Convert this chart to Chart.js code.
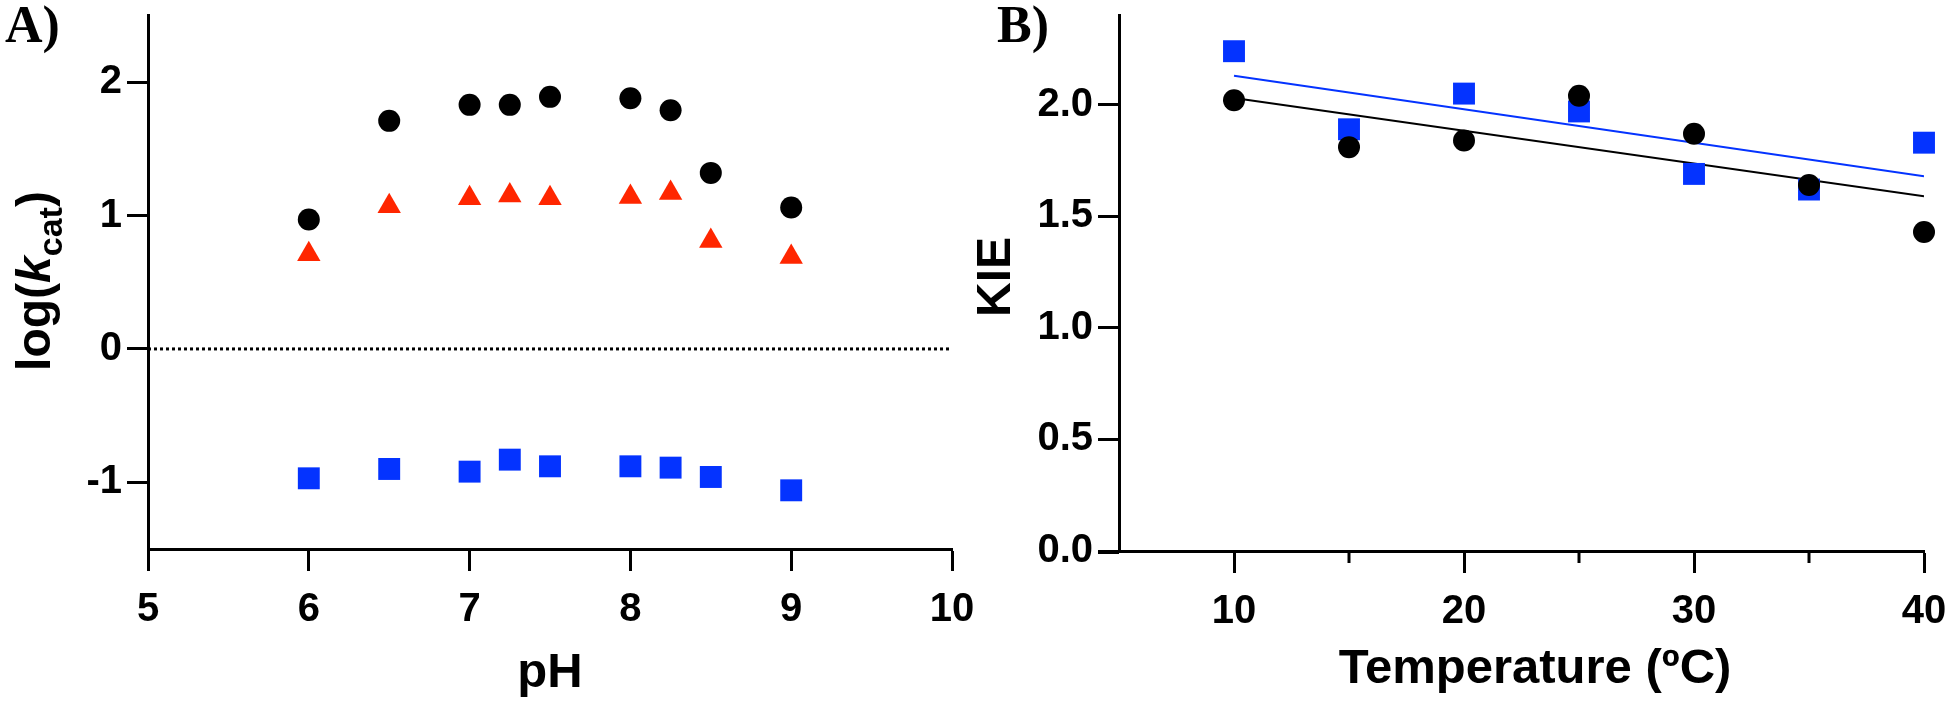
<!DOCTYPE html>
<html>
<head>
<meta charset="utf-8">
<script src="https://cdn.jsdelivr.net/npm/chart.js@4.4.0/dist/chart.umd.min.js"></script>
<style>
body { margin: 0; background: #fff; width: 1950px; height: 703px; position: relative; overflow: hidden; }
#wrapA { position: absolute; left: 0; top: 0; width: 980px; height: 703px; }
#wrapB { position: absolute; left: 960px; top: 0; width: 990px; height: 703px; }
</style>
</head>
<body>
<div id="wrapA"><canvas id="chartA"></canvas></div>
<div id="wrapB"><canvas id="chartB"></canvas></div>
<script>
// panel A: log(kcat) vs pH
var phValues = [6, 6.5, 7, 7.25, 7.5, 8, 8.25, 8.5, 9];
var logKcatCircle = [0.97, 1.71, 1.83, 1.83, 1.89, 1.88, 1.79, 1.32, 1.06];
var logKcatTriangle = [0.71, 1.07, 1.13, 1.15, 1.13, 1.14, 1.17, 0.81, 0.69];
var logKcatSquare = [-0.97, -0.90, -0.92, -0.83, -0.88, -0.88, -0.89, -0.96, -1.06];
var zeroLineX = [5, 10];
var zeroLineY = [0, 0];
var phTicks = [5, 6, 7, 8, 9, 10];
var logTicks = [-1, 0, 1, 2];

// panel B: KIE vs temperatura
var tempValues = [10, 15, 20, 25, 30, 35, 40];
var kieCircle = [2.02, 1.81, 1.84, 2.04, 1.87, 1.64, 1.43];
var kieSquare = [2.24, 1.89, 2.05, 1.97, 1.69, 1.62, 1.83];
var fitTemps = [10, 40];
var fitCircle = [2.03, 1.59];
var fitSquare = [2.13, 1.68];
var tempTicks = [10, 20, 30, 40];
var tempMinorTicks = [15, 25, 35];
var kieTicks = [0, 0.5, 1, 1.5, 2];

var NEGRO = '#000000';
var AZUL = '#0433FF';
var ROJO = '#FF2600';

Chart.defaults.font.family = '"Liberation Sans", Arial, sans-serif';
Chart.defaults.color = NEGRO;

// junta dos listas en puntos {x, y}
function puntos(xs, ys) {
    var lista = [];
    for (var i = 0; i < xs.length; i++) {
        lista.push({ x: xs[i], y: ys[i] });
    }
    return lista;
}

// dibuja letra del panel, titulos y marcas menores
var panelDecor = {
    id: 'panelDecor',
    afterDraw: function (chart, args, opts) {
        var ctx = chart.ctx;
        var area = chart.chartArea;
        var xScale = chart.scales.x;
        ctx.save();
        ctx.fillStyle = NEGRO;
        ctx.strokeStyle = NEGRO;

        ctx.font = 'bold 52px "Liberation Serif"';
        ctx.textAlign = 'left';
        ctx.textBaseline = 'alphabetic';
        ctx.fillText(opts.letter, opts.letterX, opts.letterY);

        ctx.font = 'bold ' + opts.titleSize + 'px "Liberation Sans"';
        ctx.textAlign = 'center';
        ctx.fillText(opts.xTitle, opts.xTitleX, opts.xTitleY);

        ctx.lineWidth = 3;
        (opts.minorTicks || []).forEach(function (v) {
            var px = xScale.getPixelForValue(v);
            ctx.beginPath();
            ctx.moveTo(px, area.bottom);
            ctx.lineTo(px, area.bottom + opts.minorLength);
            ctx.stroke();
        });
        if (opts.axisStub) {
            ctx.beginPath();
            ctx.moveTo(area.left - opts.axisStub, area.bottom + 1.5);
            ctx.lineTo(area.left, area.bottom + 1.5);
            ctx.stroke();
        }

        ctx.translate(opts.yTitleX, opts.yTitleY);
        ctx.rotate(-Math.PI / 2);
        ctx.textAlign = 'left';
        var total = 0;
        opts.yTitle.forEach(function (p) {
            ctx.font = p.font;
            total += ctx.measureText(p.text).width;
        });
        var x = -total / 2;
        opts.yTitle.forEach(function (p) {
            ctx.font = p.font;
            ctx.fillText(p.text, x, p.dy || 0);
            x += ctx.measureText(p.text).width;
        });
        ctx.restore();
    }
};

function ejeX(min, max, tickList, altura) {
    return {
        type: 'linear',
        min: min,
        max: max,
        afterBuildTicks: function (s) { s.ticks = tickList.map(function (v) { return { value: v }; }); },
        afterFit: function (s) { s.height = altura; s.paddingLeft = 0; s.paddingRight = 0; },
        ticks: { font: { size: 40, weight: 'bold' }, color: NEGRO, padding: 15, maxRotation: 0, autoSkip: false },
        grid: { display: true, drawOnChartArea: false, drawTicks: true, tickLength: 22, tickWidth: 3, tickColor: NEGRO },
        border: { display: true, color: NEGRO, width: 3 }
    };
}

function ejeY(min, max, tickList, ancho, formato) {
    return {
        type: 'linear',
        min: min,
        max: max,
        afterBuildTicks: function (s) { s.ticks = tickList.map(function (v) { return { value: v }; }); },
        afterFit: function (s) { s.width = ancho; s.paddingTop = 0; s.paddingBottom = 0; },
        ticks: { font: { size: 40, weight: 'bold' }, color: NEGRO, padding: 5, callback: formato },
        grid: { display: true, drawOnChartArea: false, drawTicks: true, tickLength: 21, tickWidth: 3, tickColor: NEGRO },
        border: { display: true, color: NEGRO, width: 3 }
    };
}

new Chart(document.getElementById('chartA'), {
    type: 'scatter',
    data: {
        datasets: [{
            data: puntos(phValues, logKcatCircle),
            pointStyle: 'circle', pointRadius: 11, backgroundColor: NEGRO, borderWidth: 0, clip: false
        }, {
            data: puntos(phValues, logKcatTriangle),
            pointStyle: 'triangle', pointRadius: 13.5, backgroundColor: ROJO, borderWidth: 0, clip: false
        }, {
            data: puntos(phValues, logKcatSquare),
            pointStyle: 'rect', pointRadius: 15.5, backgroundColor: AZUL, borderWidth: 0, clip: false
        }, {
            type: 'line',
            data: puntos(zeroLineX, zeroLineY),
            showLine: true, pointRadius: 0, borderColor: NEGRO, borderWidth: 3, borderDash: [3, 3]
        }]
    },
    options: {
        animation: false,
        responsive: true,
        maintainAspectRatio: false,
        layout: { padding: { left: 0, top: 13, right: 28, bottom: 0 } },
        scales: {
            x: ejeX(5, 10, phTicks, 154),
            y: ejeY(-1.5, 2.5, logTicks, 148, function (v) { return String(v); })
        },
        plugins: {
            legend: { display: false },
            tooltip: { enabled: false },
            panelDecor: {
                letter: 'A)', letterX: 5, letterY: 42,
                titleSize: 49, xTitle: 'pH', xTitleX: 550, xTitleY: 687,
                yTitleX: 50, yTitleY: 281,
                yTitle: [
                    { text: 'log(', font: 'bold 48px "Liberation Sans"' },
                    { text: 'k', font: 'italic bold 48px "Liberation Sans"' },
                    { text: 'cat', font: 'bold 34px "Liberation Sans"', dy: 12 },
                    { text: ')', font: 'bold 48px "Liberation Sans"' }
                ]
            }
        }
    },
    plugins: [panelDecor]
});

new Chart(document.getElementById('chartB'), {
    type: 'scatter',
    data: {
        datasets: [{
            data: puntos(tempValues, kieCircle),
            pointStyle: 'circle', pointRadius: 11, backgroundColor: NEGRO, borderWidth: 0, clip: false
        }, {
            data: puntos(tempValues, kieSquare),
            pointStyle: 'rect', pointRadius: 15.5, backgroundColor: AZUL, borderWidth: 0, clip: false
        }, {
            type: 'line',
            data: puntos(fitTemps, fitCircle),
            showLine: true, pointRadius: 0, borderColor: NEGRO, borderWidth: 2
        }, {
            type: 'line',
            data: puntos(fitTemps, fitSquare),
            showLine: true, pointRadius: 0, borderColor: AZUL, borderWidth: 2
        }]
    },
    options: {
        animation: false,
        responsive: true,
        maintainAspectRatio: false,
        layout: { padding: { left: 0, top: 13, right: 26, bottom: 0 } },
        scales: {
            x: ejeX(5, 40, tempTicks, 152),
            y: ejeY(0, 2.4, kieTicks, 159, function (v) { return v.toFixed(1); })
        },
        plugins: {
            legend: { display: false },
            tooltip: { enabled: false },
            panelDecor: {
                letter: 'B)', letterX: 37, letterY: 42,
                titleSize: 49, xTitle: 'Temperature (\u00baC)', xTitleX: 575, xTitleY: 683,
                minorTicks: tempMinorTicks, minorLength: 12, axisStub: 21,
                yTitleX: 50, yTitleY: 277,
                yTitle: [
                    { text: 'KIE', font: 'bold 48px "Liberation Sans"' }
                ]
            }
        }
    },
    plugins: [panelDecor]
});
</script>
</body>
</html>
